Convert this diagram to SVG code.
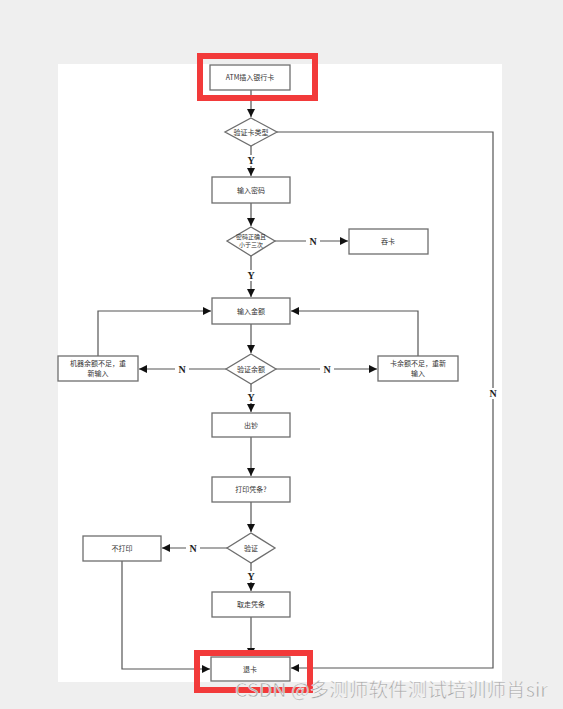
<svg xmlns="http://www.w3.org/2000/svg" width="563" height="709" viewBox="0 0 563 709">
<style>
.box{fill:#fff;stroke:#6e6e6e;stroke-width:1.3}
.t{font-family:"Noto Sans CJK SC","Liberation Sans",sans-serif;font-size:7px;fill:#333;text-anchor:middle}
.ts{font-family:"Noto Sans CJK SC","Liberation Sans",sans-serif;font-size:6px;fill:#333;text-anchor:middle}
.lbl{font-family:"Liberation Serif",serif;font-size:10px;fill:#222;text-anchor:middle;font-weight:bold}
.c{fill:none;stroke:#555;stroke-width:1.2}
.red{fill:none;stroke:#f23a3a;stroke-width:6}
</style>
<defs>
<marker id="ah" viewBox="0 0 10 10" refX="10" refY="5" markerWidth="8" markerHeight="8" markerUnits="userSpaceOnUse" orient="auto">
<path d="M0,0 L10,5 L0,10 z" fill="#111"/>
</marker>
</defs>
<rect x="0" y="0" width="563" height="709" fill="#efefef"/>
<rect x="58" y="64" width="444" height="618" fill="#fff"/>

<g id="connectors">
<path class="c" d="M251,90 V117" marker-end="url(#ah)"/>
<path class="c" d="M251,146 V176" marker-end="url(#ah)"/>
<path class="c" d="M251,203 V226" marker-end="url(#ah)"/>
<path class="c" d="M275,241 H348" marker-end="url(#ah)"/>
<path class="c" d="M251,256 V297" marker-end="url(#ah)"/>
<path class="c" d="M251,324 V353" marker-end="url(#ah)"/>
<path class="c" d="M226,369 H139" marker-end="url(#ah)"/>
<path class="c" d="M276,369 H377" marker-end="url(#ah)"/>
<path class="c" d="M98,356 V311 H211" marker-end="url(#ah)"/>
<path class="c" d="M418,356 V311 H291" marker-end="url(#ah)"/>
<path class="c" d="M251,384 V412" marker-end="url(#ah)"/>
<path class="c" d="M251,437 V476" marker-end="url(#ah)"/>
<path class="c" d="M251,502 V532" marker-end="url(#ah)"/>
<path class="c" d="M227,548 H162" marker-end="url(#ah)"/>
<path class="c" d="M251,563 V591" marker-end="url(#ah)"/>
<path class="c" d="M251,617 V656" marker-end="url(#ah)"/>
<path class="c" d="M122,561 V669 H210" marker-end="url(#ah)"/>
<path class="c" d="M277,132 H493 V668 H291" marker-end="url(#ah)"/>
<rect x="244" y="155" width="14" height="11" fill="#fff"/>
<text class="lbl" x="251" y="164">Y</text>
<rect x="306" y="236" width="14" height="11" fill="#fff"/>
<text class="lbl" x="313" y="245">N</text>
<rect x="244" y="270" width="14" height="11" fill="#fff"/>
<text class="lbl" x="251" y="279">Y</text>
<rect x="175" y="364" width="14" height="11" fill="#fff"/>
<text class="lbl" x="182" y="373">N</text>
<rect x="320" y="364" width="14" height="11" fill="#fff"/>
<text class="lbl" x="327" y="373">N</text>
<rect x="244" y="392" width="14" height="11" fill="#fff"/>
<text class="lbl" x="251" y="401">Y</text>
<rect x="186" y="543" width="14" height="11" fill="#fff"/>
<text class="lbl" x="193" y="552">N</text>
<rect x="244" y="571" width="14" height="11" fill="#fff"/>
<text class="lbl" x="251" y="580">Y</text>
<rect x="486" y="388" width="14" height="11" fill="#fff"/>
<text class="lbl" x="493" y="397">N</text>
</g>

<g id="n-atm"><rect class="box" x="210" y="65" width="80" height="25"/><text class="t" x="250" y="80">ATM插入银行卡</text></g>
<g id="n-check-card"><path class="box" d="M251,118 L277,132 L251,146 L225,132 z"/><text class="t" x="251" y="135">验证卡类型</text></g>
<g id="n-pwd"><rect class="box" x="212" y="177" width="78" height="26"/><text class="t" x="251" y="193">输入密码</text></g>
<g id="n-check-pwd"><path class="box" d="M251,227 L275,241 L251,256 L227,241 z"/><text class="ts" x="251" y="239">密码正确且</text><text class="ts" x="251" y="247">小于三次</text></g>
<g id="n-swallow"><rect class="box" x="349" y="229" width="79" height="25"/><text class="t" x="388" y="244">吞卡</text></g>
<g id="n-amount"><rect class="box" x="212" y="298" width="78" height="26"/><text class="t" x="251" y="314">输入金额</text></g>
<g id="n-check-bal"><path class="box" d="M251,354 L276,369 L251,384 L226,369 z"/><text class="t" x="251" y="372">验证余额</text></g>
<g id="n-machine"><rect class="box" x="58" y="356" width="80" height="25"/><text class="t" x="98" y="366">机器余额不足，重</text><text class="t" x="98" y="376">新输入</text></g>
<g id="n-card"><rect class="box" x="378" y="356" width="80" height="25"/><text class="t" x="418" y="366">卡余额不足，重新</text><text class="t" x="418" y="376">输入</text></g>
<g id="n-cash"><rect class="box" x="212" y="413" width="78" height="24"/><text class="t" x="251" y="428">出钞</text></g>
<g id="n-print"><rect class="box" x="212" y="477" width="78" height="25"/><text class="t" x="251" y="492">打印凭条?</text></g>
<g id="n-check"><path class="box" d="M251,533 L275,548 L251,563 L227,548 z"/><text class="t" x="251" y="551">验证</text></g>
<g id="n-noprint"><rect class="box" x="83" y="536" width="78" height="25"/><text class="t" x="122" y="551">不打印</text></g>
<g id="n-take"><rect class="box" x="212" y="592" width="78" height="25"/><text class="t" x="251" y="607">取走凭条</text></g>
<g id="n-return"><rect class="box" x="211" y="657" width="79" height="24"/><text class="t" x="250" y="672">退卡</text></g>

<rect class="red" x="200" y="56" width="115" height="42"/>
<rect class="red" x="197" y="653" width="113" height="37"/>
<text x="235" y="697" font-family="'Noto Sans CJK SC','Liberation Sans',sans-serif" font-size="19" fill="#a8a8a8" stroke="#fff" stroke-width="0.4" textLength="313" lengthAdjust="spacingAndGlyphs">CSDN @多测师软件测试培训师肖sir</text>
</svg>
